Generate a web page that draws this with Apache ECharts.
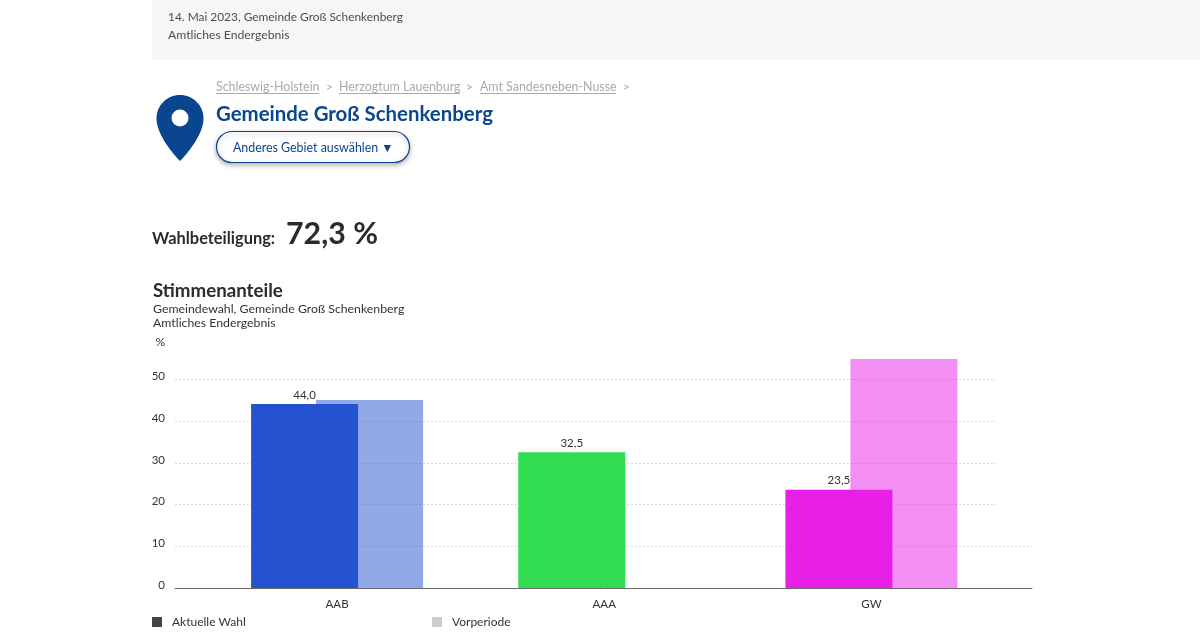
<!DOCTYPE html>
<html><head><meta charset="utf-8">
<style>html,body{margin:0;padding:0;background:#fff}#c{width:1200px;height:640px}</style>
<script src="https://cdn.jsdelivr.net/npm/echarts@6/dist/echarts.min.js"></script></head>
<body><div id="c"></div>
<script>
const categories = ['AAB', 'AAA', 'GW'];
const currentValues = [44.0, 32.5, 23.5];
const previousValues = [45.0, null, 54.8];
const partyColors = ['#2553d0', '#31dc53', '#e81fe6'];
const seriesNames = ['Aktuelle Wahl', 'Vorperiode'];
const FONT = 'Lato';

echarts.graphic.registerShape('pin', echarts.graphic.extendShape({
  buildPath(ctx) {
    ctx.moveTo(180, 95);
    ctx.bezierCurveTo(167, 95, 156.5, 105.5, 156.5, 118.5);
    ctx.bezierCurveTo(156.5, 135, 174, 155, 180, 161);
    ctx.bezierCurveTo(186, 155, 203.5, 135, 203.5, 118.5);
    ctx.bezierCurveTo(203.5, 105.5, 193, 95, 180, 95);
    ctx.closePath();
  }
}));

const chart = echarts.init(document.getElementById('c'));
function txt(x, y, s, size, color, weight, align) {
  return {type:'text', x, y, z:10, style:{text:s, font:(weight||'normal')+' '+size+'px '+FONT, fill:color, textVerticalAlign:'middle', textAlign:align||'left'}};
}
function uline(x1, x2, y) {
  return {type:'line', shape:{x1, y1:y, x2, y2:y}, style:{stroke:'#aaaaaa', lineWidth:1}};
}
const graphics = [
  {type:'rect', shape:{x:152, y:0, width:1048, height:60}, style:{fill:'#f6f6f6'}},
  txt(168, 17.5, '14. Mai 2023, Gemeinde Groß Schenkenberg', 11.9, '#4d4d4d'),
  txt(168, 35.5, 'Amtliches Endergebnis', 12.2, '#4d4d4d'),
  txt(216, 87, 'Schleswig-Holstein', 12.4, '#aaaaaa'), uline(216, 319, 93.5),
  txt(326, 87, '>', 12, '#aaaaaa'),
  txt(339, 87, 'Herzogtum Lauenburg', 12.4, '#aaaaaa'), uline(339, 460, 93.5),
  txt(466, 87, '>', 12, '#aaaaaa'),
  txt(480, 87, 'Amt Sandesneben-Nusse', 12.4, '#aaaaaa'), uline(480, 616, 93.5),
  txt(623, 87, '>', 12, '#aaaaaa'),
  {type:'pin', shape:{}, style:{fill:'#0a4690'}},
  {type:'circle', shape:{cx:180, cy:118, r:8.5}, style:{fill:'#ffffff'}},
  txt(216, 114, 'Gemeinde Groß Schenkenberg', 20.4, '#0a4690', 'bold'),
  {type:'rect', shape:{x:216.5, y:131.5, width:193, height:31, r:15.5}, style:{fill:'#fff', stroke:'#0a4690', lineWidth:1.2, shadowBlur:5, shadowOffsetY:2, shadowColor:'rgba(0,0,0,0.3)'}},
  txt(233, 148, 'Anderes Gebiet auswählen ▼', 12.4, '#0a4690'),
  txt(152, 239, 'Wahlbeteiligung:', 16.4, '#2b2b2b', 'bold'),
  txt(286, 234, '72,3 %', 30.3, '#2b2b2b', 'bold'),
  txt(153, 291, 'Stimmenanteile', 18.7, '#2b2b2b', 'bold'),
  txt(153, 309, 'Gemeindewahl, Gemeinde Groß Schenkenberg', 12.3, '#333333'),
  txt(153, 323, 'Amtliches Endergebnis', 12.3, '#333333'),
];
const dash = {show:true, lineStyle:{color:'#d9d9d9', type:[2,2], width:1}, showMinLine:false};
chart.setOption({
  animation:false,
  backgroundColor:'#ffffff',
  textStyle:{fontFamily:FONT},
  grid:[
    {left:203.5, width:801.5, top:358.1, height:229.9},
    {left:175, width:821, top:379.4, height:208.6},
    {left:175, width:857, top:546.28, height:41.72}
  ],
  legend:[
    {data:[seriesNames[0]], left:152, top:616, itemWidth:10, itemHeight:10, icon:'rect', padding:0, textStyle:{fontSize:12, color:'#333', padding:[0,0,0,5], fontFamily:FONT}, selectedMode:false},
    {data:[seriesNames[1]], left:432, top:616, itemWidth:10, itemHeight:10, icon:'rect', padding:0, textStyle:{fontSize:12, color:'#333', padding:[0,0,0,5], fontFamily:FONT}, selectedMode:false}
  ],
  xAxis:[
    {type:'category', gridIndex:0, data:categories, axisLine:{show:false}, axisTick:{show:false}, axisLabel:{fontSize:11.5, color:'#333', margin:10}},
    {type:'category', gridIndex:1, data:categories, show:false},
    {type:'category', gridIndex:2, data:categories, axisLine:{show:true, lineStyle:{color:'#666', width:1}}, axisTick:{show:false}, axisLabel:{show:false}}
  ],
  yAxis:[
    {type:'value', gridIndex:0, min:0, max:55, show:false},
    {type:'value', gridIndex:1, min:0, max:50, interval:10, name:'%', nameLocation:'end', nameGap:31, nameTextStyle:{fontSize:12, color:'#333', align:'right', padding:[0,10,0,0]}, axisLine:{show:false}, axisTick:{show:false}, axisLabel:{fontSize:11.5, color:'#333', margin:10, verticalAlign:'bottom', lineHeight:6}, splitLine:dash},
    {type:'value', gridIndex:2, min:0, max:10, interval:10, axisLine:{show:false}, axisTick:{show:false}, axisLabel:{show:false}, splitLine:dash}
  ],
  series:[
    {name:seriesNames[0], type:'bar', xAxisIndex:0, yAxisIndex:0, z:4, barWidth:107, barGap:'-39.25%', itemStyle:{color:'#444444'},
     data:currentValues.map((v,i)=>({value:v, itemStyle:{color:partyColors[i]}})),
     label:{show:true, position:'top', distance:3, fontSize:11.5, color:'#333', formatter:p=>p.value.toFixed(1).replace('.',',')}},
    {name:seriesNames[1], type:'bar', xAxisIndex:0, yAxisIndex:0, z:3, barWidth:107, itemStyle:{color:'#cccccc'},
     data:previousValues.map((v,i)=>({value:v, itemStyle:{color:partyColors[i], opacity:0.5}}))}
  ],
  graphic:graphics
});
</script></body></html>
